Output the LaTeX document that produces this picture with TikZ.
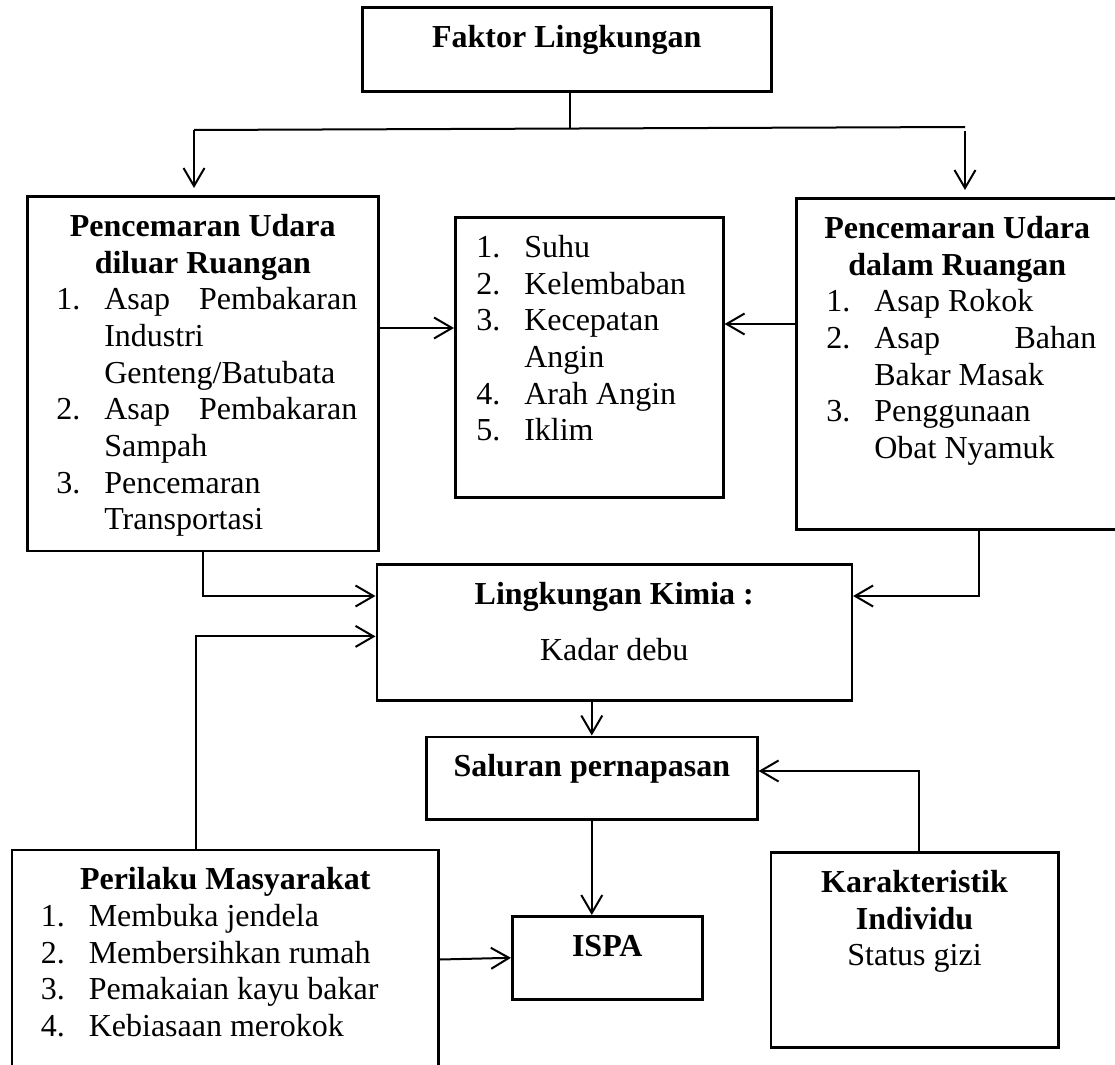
\documentclass[tikz,border=0pt]{standalone}
\usepackage{fontspec}
\setmainfont{Liberation Serif}
\usetikzlibrary{arrows.meta}
\newcommand{\firstrow}{\rule{0pt}{20pt}}
\newcommand{\nr}[1]{\leavevmode\llap{\makebox[24pt][l]{#1}}}
\newcommand{\boxbody}[3]{\parbox[c][#2][t]{#1}{#3}}

\begin{document}
\begin{tikzpicture}[x=0.5pt, y=-0.5pt,
    box/.style={draw, line width=1.3pt, inner sep=0pt, anchor=north west, font=\fontsize{16}{18.35}\selectfont},
    conn/.style={line width=1pt, -{Straight Barb[length=9pt, width=10.5pt]}}]
  \clip (0,0) rectangle (1115,1065);

  \node[box] (faktor) at (361,6) {\boxbody{204.5pt}{42pt}{\centering\firstrow\textbf{Faktor Lingkungan}}};

  \node[box] (luar) at (26,195) {\boxbody{175.5pt}{177.25pt}{%
    {\centering\firstrow\textbf{Pencemaran Udara}\\\textbf{diluar Ruangan}\par}
    \raggedright\leftskip=38.5pt
    \nr{1.}\makebox[126.5pt][s]{Asap\hfill Pembakaran}\\
    Industri\\
    Genteng/Batubata\\
    \nr{2.}\makebox[126.5pt][s]{Asap\hfill Pembakaran}\\
    Sampah\\
    \nr{3.}Pencemaran\\
    Transportasi}};

  \node[box] (tengah) at (454,216) {\boxbody{134pt}{140pt}{%
    \raggedright\leftskip=34.5pt
    \firstrow\nr{1.}Suhu\\
    \nr{2.}Kelembaban\\
    \nr{3.}Kecepatan\\
    Angin\\
    \nr{4.}Arah Angin\\
    \nr{5.}Iklim}};

  \node[box] (dalam) at (795,197) {\boxbody{161pt}{165.5pt}{%
    {\centering\firstrow\textbf{Pencemaran Udara}\\\textbf{dalam Ruangan}\par}
    \raggedright\leftskip=39pt
    \nr{1.}Asap Rokok\\
    \nr{2.}\makebox[111pt][s]{Asap\hfill Bahan}\\
    Bakar Masak\\
    \nr{3.}Penggunaan\\
    Obat Nyamuk}};

  \node[box] (kimia) at (375.5,563) {\boxbody{237.5pt}{68pt}{%
    \centering\firstrow\textbf{Lingkungan Kimia :}\\[9.7pt]Kadar debu}};

  \node[box] (saluran) at (425,735.5) {\boxbody{165.5pt}{41.25pt}{\centering\firstrow\textbf{Saluran pernapasan}}};

  \node[box] (ispa) at (511,915) {\boxbody{95pt}{41.5pt}{\centering\firstrow\textbf{ISPA}}};

  \node[box] (perilaku) at (10.7,848.5) {\boxbody{213.35pt}{115.75pt}{%
    {\centering\firstrow\textbf{Perilaku Masyarakat}\par}
    \raggedright\leftskip=38.4pt
    \nr{1.}Membuka jendela\\
    \nr{2.}Membersihkan rumah\\
    \nr{3.}Pemakaian kayu bakar\\
    \nr{4.}Kebiasaan merokok}};

  \node[box] (karakter) at (769.5,851) {\boxbody{143.75pt}{97.5pt}{%
    \centering\firstrow\textbf{Karakteristik}\\\textbf{Individu}\\Status gizi}};

  % percabangan dari faktor lingkungan
  \coordinate (stem) at (570,128.5);
  \coordinate (barL) at (194,130);
  \coordinate (barR) at (965,127);
  \draw[conn, -] (faktor.south -| stem) -- (stem);
  \draw[conn, -] (barL) -- (barR);
  \draw[conn, shorten >=3.5pt] (barL) -- (barL |- luar.north);
  \draw[conn, shorten >=3.5pt] ([yshift=-2pt]barR) -- (barR |- dalam.north);

  \draw[conn] ([yshift=-66.5pt]luar.north east) -- ([yshift=-56pt]tengah.north west);
  \draw[conn] ([yshift=-63.5pt]dalam.north west) -- ([yshift=-54pt]tengah.north east);

  \draw[conn] (luar.south) |- ([yshift=-16.5pt]kimia.north west);
  \draw[conn] ([xshift=92pt]dalam.south west) |- ([yshift=-16.5pt]kimia.north east);
  \draw[conn] ([xshift=92.5pt]perilaku.north west) |- ([yshift=-36.7pt]kimia.north west);

  \draw[conn] (kimia.south -| saluran.north) -- (saluran.north);
  \draw[conn] (saluran.south) -- (saluran.south |- ispa.north);
  \draw[conn] ([xshift=2.25pt]karakter.north) |- ([yshift=-17.75pt]saluran.north east);
  \draw[conn] ([yshift=-55.5pt]perilaku.north east) -- (ispa.west);
\end{tikzpicture}
\end{document}
